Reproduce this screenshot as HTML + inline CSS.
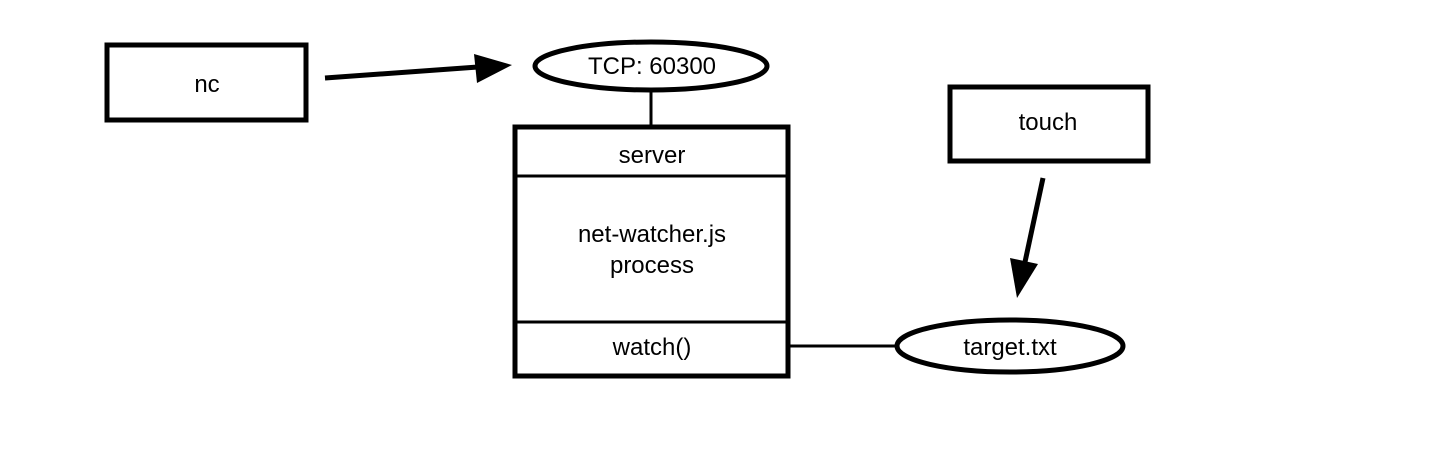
<!DOCTYPE html>
<html><head><meta charset="utf-8"><style>
html,body{margin:0;padding:0;background:#fff;}
svg{display:block;}
text{font-family:"Liberation Sans",sans-serif;font-size:24px;fill:#000;text-anchor:middle;}
</style></head><body>
<svg width="1438" height="454" viewBox="0 0 1438 454" xmlns="http://www.w3.org/2000/svg">
<rect x="107" y="45" width="199" height="75" fill="#fff" stroke="#000" stroke-width="5"/>
<text x="207" y="92">nc</text>
<line x1="325" y1="78" x2="478" y2="67" stroke="#000" stroke-width="5"/>
<polygon points="512,65 474,54 477,83" fill="#000"/>
<ellipse cx="651" cy="66" rx="116" ry="24" fill="#fff" stroke="#000" stroke-width="5"/>
<text x="652" y="74">TCP: 60300</text>
<line x1="651" y1="90" x2="651" y2="126" stroke="#000" stroke-width="3"/>
<rect x="515" y="127" width="273" height="249" fill="#fff" stroke="#000" stroke-width="5"/>
<line x1="515" y1="176" x2="788" y2="176" stroke="#000" stroke-width="3"/>
<line x1="515" y1="322" x2="788" y2="322" stroke="#000" stroke-width="3"/>
<text x="652" y="163">server</text>
<text x="652" y="242">net-watcher.js</text>
<text x="652" y="273">process</text>
<text x="652" y="355">watch()</text>
<line x1="788" y1="346" x2="898" y2="346" stroke="#000" stroke-width="3"/>
<ellipse cx="1010" cy="346" rx="113" ry="26" fill="#fff" stroke="#000" stroke-width="5"/>
<text x="1010" y="355">target.txt</text>
<rect x="950" y="87" width="198" height="74" fill="#fff" stroke="#000" stroke-width="5"/>
<text x="1048" y="130">touch</text>
<line x1="1043" y1="178" x2="1025" y2="262" stroke="#000" stroke-width="5"/>
<polygon points="1017,298 1010,258 1038,264" fill="#000"/>
</svg>
</body></html>
